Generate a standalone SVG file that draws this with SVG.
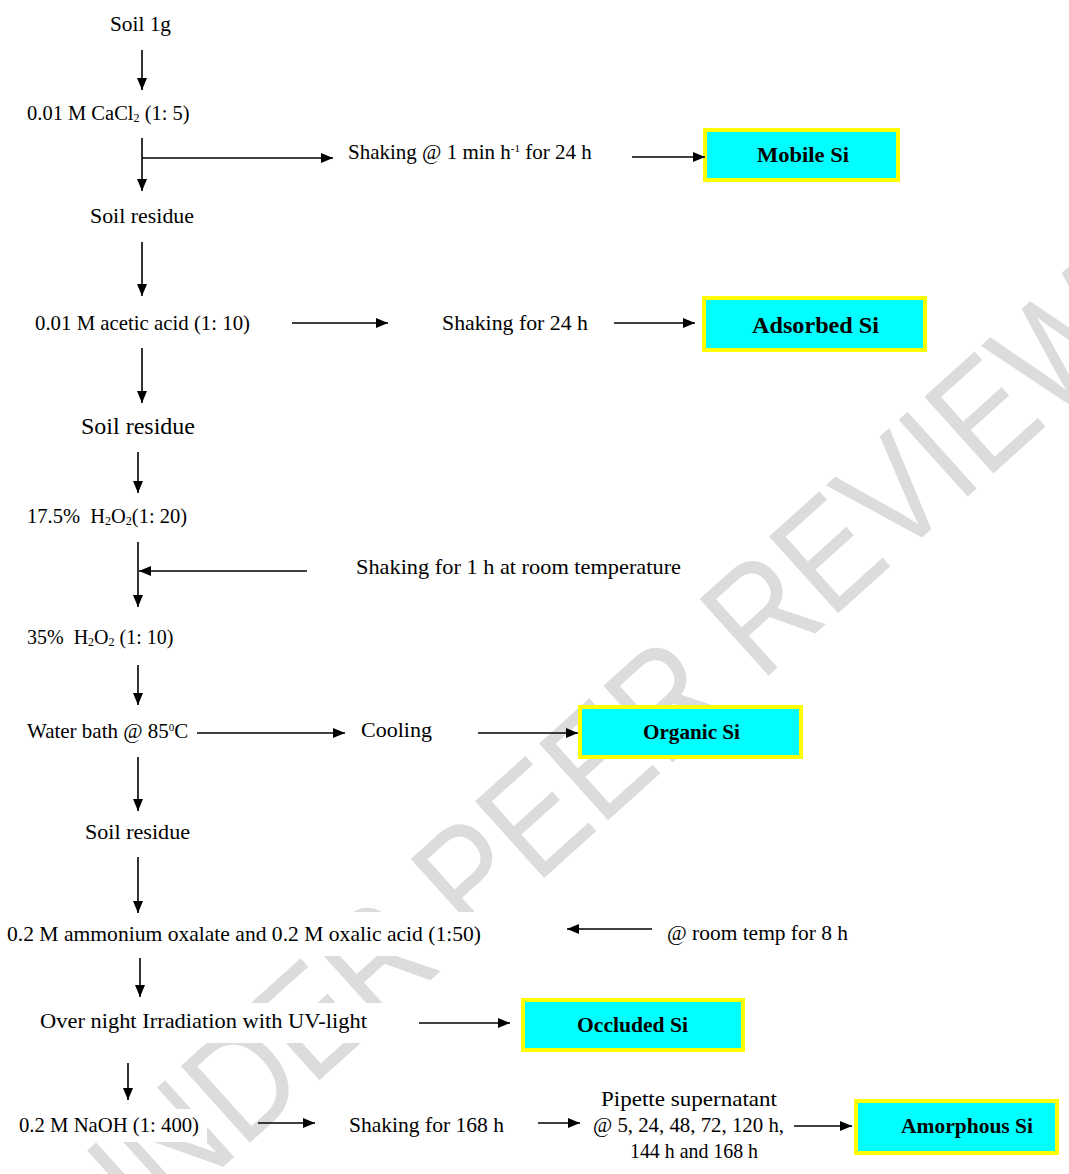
<svg xmlns="http://www.w3.org/2000/svg" width="1069" height="1174" viewBox="0 0 1069 1174">
<defs>
<marker id="ah" markerUnits="userSpaceOnUse" viewBox="0 0 12 10" markerWidth="12" markerHeight="10" refX="12" refY="5" orient="auto">
<path d="M0,0 L12,5 L0,10 z" fill="#000"/>
</marker>
<style>
.t{font-family:"Liberation Serif","Times New Roman",serif;font-size:21px;fill:#000}
.b{font-family:"Liberation Serif","Times New Roman",serif;font-weight:bold;font-size:21px;fill:#000}
.box{fill:#00FFFF;stroke:#FFFF00;stroke-width:4}
.bg{fill:#fff}
.c line{stroke:#000;stroke-width:1.6;marker-end:url(#ah)}
.wm{font-family:"Liberation Sans",Arial,sans-serif;font-size:150px;fill:#dcdcdc}
</style>
</defs>
<rect width="1069" height="1174" fill="#fff"/>
<g id="watermark">
<text class="wm" transform="translate(103,1275) rotate(-42)" textLength="1396" lengthAdjust="spacingAndGlyphs">UNDER PEER REVIEW</text>
</g>
<g id="n-soil"><rect class="bg" x="100" y="8" width="81" height="33"/><text class="t" x="110" y="31" textLength="61" lengthAdjust="spacingAndGlyphs">Soil 1g</text></g>
<g id="n-cacl2"><rect class="bg" x="20" y="97" width="176" height="33"/><text class="t" x="27" y="120" style="font-size:20.5px">0.01 M CaCl<tspan font-size="12" dy="2">2</tspan><tspan dy="-2"> (1: 5)</tspan></text></g>
<g id="n-shake1"><rect class="bg" x="340" y="136" width="262" height="33"/><text class="t" x="348" y="159">Shaking @ 1 min h<tspan font-size="11" dy="-7">-1</tspan><tspan dy="7"> for 24 h</tspan></text></g>
<g id="n-mobile"><rect class="box" x="705" y="130" width="193" height="50"/><text class="b" x="757" y="162" textLength="92" lengthAdjust="spacingAndGlyphs">Mobile Si</text></g>
<g id="n-res1"><rect class="bg" x="82" y="200" width="120" height="33"/><text class="t" x="90" y="223" textLength="104" lengthAdjust="spacingAndGlyphs">Soil residue</text></g>
<g id="n-acetic"><rect class="bg" x="27" y="307" width="231" height="33"/><text class="t" x="35" y="330" textLength="215" lengthAdjust="spacingAndGlyphs">0.01 M acetic acid (1: 10)</text></g>
<g id="n-shake2"><rect class="bg" x="434" y="307" width="162" height="33"/><text class="t" x="442" y="330" textLength="146" lengthAdjust="spacingAndGlyphs">Shaking for 24 h</text></g>
<g id="n-adsorbed"><rect class="box" x="704" y="298" width="221" height="52"/><text class="b" x="752" y="333" style="font-size:24px" textLength="127" lengthAdjust="spacingAndGlyphs">Adsorbed Si</text></g>
<g id="n-res2"><rect class="bg" x="73" y="410" width="130" height="34"/><text class="t" x="81" y="434" style="font-size:23px" textLength="114" lengthAdjust="spacingAndGlyphs">Soil residue</text></g>
<g id="n-h2o2a"><rect class="bg" x="20" y="500" width="175" height="33"/><text class="t" x="27" y="523" style="font-size:20.5px">17.5%&#160; H<tspan font-size="12" dy="2">2</tspan><tspan dy="-2">O</tspan><tspan font-size="12" dy="2">2</tspan><tspan dy="-2">(1: 20)</tspan></text></g>
<g id="n-shake3"><rect class="bg" x="348" y="551" width="341" height="33"/><text class="t" x="356" y="574" textLength="325" lengthAdjust="spacingAndGlyphs">Shaking for 1 h at room temperature</text></g>
<g id="n-h2o2b"><rect class="bg" x="20" y="621" width="161" height="33"/><text class="t" x="27" y="644" style="font-size:20px">35%&#160; H<tspan font-size="12" dy="2">2</tspan><tspan dy="-2">O</tspan><tspan font-size="12" dy="2">2</tspan><tspan dy="-2"> (1: 10)</tspan></text></g>
<g id="n-water"><rect class="bg" x="20" y="715" width="172" height="33"/><text class="t" x="27" y="738">Water bath @ 85<tspan font-size="11" dy="-7">0</tspan><tspan dy="7">C</tspan></text></g>
<g id="n-cooling"><rect class="bg" x="353" y="714" width="87" height="33"/><text class="t" x="361" y="737" textLength="71" lengthAdjust="spacingAndGlyphs">Cooling</text></g>
<g id="n-organic"><rect class="box" x="580" y="707" width="221" height="50"/><text class="b" x="643" y="739" textLength="97" lengthAdjust="spacingAndGlyphs">Organic Si</text></g>
<g id="n-res3"><rect class="bg" x="77" y="816" width="121" height="33"/><text class="t" x="85" y="839" textLength="105" lengthAdjust="spacingAndGlyphs">Soil residue</text></g>
<g id="n-oxalate"><rect class="bg" x="0" y="912" width="495" height="44"/><text class="t" x="7" y="941" textLength="474" lengthAdjust="spacingAndGlyphs">0.2 M ammonium oxalate and 0.2 M oxalic acid (1:50)</text></g>
<g id="n-roomtemp"><rect class="bg" x="659" y="917" width="197" height="33"/><text class="t" x="667" y="940" textLength="181" lengthAdjust="spacingAndGlyphs">@ room temp for 8 h</text></g>
<g id="n-uv"><rect class="bg" x="30" y="1003" width="380" height="40"/><text class="t" x="40" y="1028" textLength="327" lengthAdjust="spacingAndGlyphs">Over night Irradiation with UV-light</text></g>
<g id="n-occluded"><rect class="box" x="523" y="1000" width="220" height="50"/><text class="b" x="577" y="1032" textLength="111" lengthAdjust="spacingAndGlyphs">Occluded Si</text></g>
<g id="n-naoh"><rect class="bg" x="12" y="1109" width="195" height="33"/><text class="t" x="19" y="1132" textLength="180" lengthAdjust="spacingAndGlyphs">0.2 M NaOH (1: 400)</text></g>
<g id="n-shake4"><rect class="bg" x="341" y="1109" width="171" height="33"/><text class="t" x="349" y="1132" textLength="155" lengthAdjust="spacingAndGlyphs">Shaking for 168 h</text></g>
<g id="n-pipette"><rect class="bg" x="586" y="1084" width="206" height="88"/>
<text class="t" x="601" y="1106" textLength="176" lengthAdjust="spacingAndGlyphs">Pipette supernatant</text>
<text class="t" x="593" y="1132" textLength="191" lengthAdjust="spacingAndGlyphs">@ 5, 24, 48, 72, 120 h,</text>
<text class="t" x="630" y="1158" textLength="128" lengthAdjust="spacingAndGlyphs">144 h and 168 h</text></g>
<g id="n-amorphous"><rect class="box" x="856" y="1101" width="201" height="52"/><text class="b" x="901" y="1133" textLength="132" lengthAdjust="spacingAndGlyphs">Amorphous Si</text></g>
<g id="connectors" class="c">
<line x1="142" y1="50" x2="142" y2="90"/>
<line x1="142" y1="138" x2="142" y2="191"/>
<line x1="142" y1="158" x2="333" y2="158"/>
<line x1="632" y1="157" x2="705" y2="157"/>
<line x1="142" y1="242" x2="142" y2="296"/>
<line x1="292" y1="323" x2="388" y2="323"/>
<line x1="614" y1="323" x2="695" y2="323"/>
<line x1="142" y1="348" x2="142" y2="403"/>
<line x1="138" y1="452" x2="138" y2="493"/>
<line x1="138" y1="542" x2="138" y2="607"/>
<line x1="307" y1="571" x2="139" y2="571"/>
<line x1="138" y1="665" x2="138" y2="705"/>
<line x1="197" y1="733" x2="345" y2="733"/>
<line x1="478" y1="733" x2="578" y2="733"/>
<line x1="138" y1="757" x2="138" y2="811"/>
<line x1="138" y1="857" x2="138" y2="913"/>
<line x1="652" y1="929" x2="567" y2="929"/>
<line x1="140" y1="958" x2="140" y2="997"/>
<line x1="419" y1="1023" x2="510" y2="1023"/>
<line x1="128" y1="1063" x2="128" y2="1100"/>
<line x1="258" y1="1123" x2="315" y2="1123"/>
<line x1="538" y1="1123" x2="580" y2="1123"/>
<line x1="794" y1="1126" x2="852" y2="1126"/>
</g>
</svg>
